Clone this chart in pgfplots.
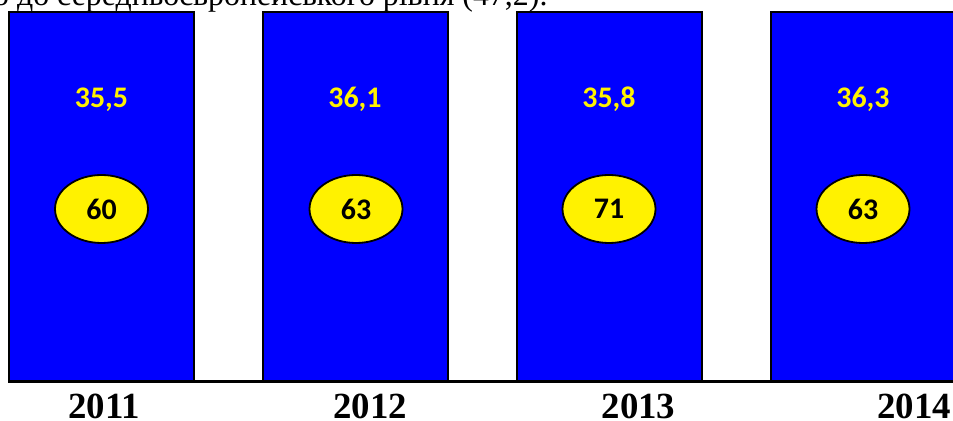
\documentclass[border=0pt]{standalone}
\usepackage{fontspec}
\setmainfont{Liberation Serif}
\newfontfamily\calibri{Carlito}
\usepackage{pgfplots}
\pgfplotsset{compat=1.18}
\usetikzlibrary{shapes.geometric}
\begin{document}
\begin{tikzpicture}
\begin{axis}[
  width=953bp, height=421bp, scale only axis,
  xmin=0, xmax=953, ymin=-39, ymax=382,
  hide axis,
]
% decorative bars (all full height)
\addplot[ybar, bar width=185, fill=blue, draw=black, line width=2bp]
  coordinates {(101.5,370) (355,370) (609,370) (863,370)};
% baseline
\addplot[black, line width=3bp] coordinates {(9,0) (953,0)};
% yellow values
\addplot[draw=none, mark=none, nodes near coords, point meta=explicit symbolic,
  every node near coord/.append style={anchor=base, text=yellow, inner sep=0pt,
    font=\calibri\bfseries\fontsize{30}{36}\selectfont}]
  table[meta=lab] {
x y lab
101.5 274 35,5
355 274 36,1
609 274 35,8
863 274 36,3
};
% ellipses
\addplot[draw=none, mark=none, nodes near coords, point meta=explicit symbolic,
  every node near coord/.append style={anchor=center, ellipse, draw=black, fill=yellow,
    line width=1.8bp, minimum width=93bp, minimum height=68bp, inner sep=0pt, text=black,
    font=\calibri\bfseries\fontsize{30}{36}\selectfont}]
  table[meta=lab] {
x y lab
101.5 173 60
356 173 63
609 173 71
863 173 63
};
% years
\addplot[draw=none, mark=none, nodes near coords, point meta=explicit symbolic,
  every node near coord/.append style={anchor=base, text=black, inner sep=0pt,
    font=\bfseries\fontsize{37}{44}\selectfont}]
  table[meta=lab] {
x y lab
104 -36 2011
370 -36 2012
638.5 -36 2013
914 -36 2014
};
\node[anchor=base west, inner sep=0pt, font=\fontsize{32}{38}\selectfont]
  at (axis cs:-7,376) {о до середньоєвропейського рівня (47,2).};
\coordinate (bl) at (rel axis cs:0,0);
\coordinate (tr) at (rel axis cs:1,1);
\end{axis}
\pgfresetboundingbox
\path[use as bounding box] (bl) rectangle (tr);
\end{tikzpicture}
\end{document}
